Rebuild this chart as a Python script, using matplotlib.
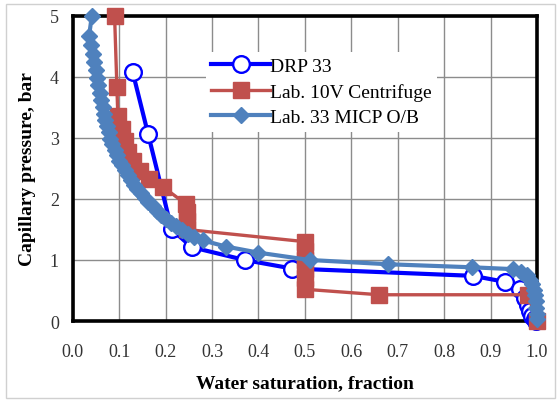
import matplotlib
matplotlib.use("Agg")
import matplotlib.pyplot as plt
from matplotlib.patches import Rectangle

# DRP 33 (digital rock physics)
drp_sw = [0.129, 0.162, 0.213, 0.256, 0.370, 0.472, 0.862, 0.932,
          0.963, 0.974, 0.980, 0.985, 0.990, 0.995, 0.998]
drp_pc = [4.08, 3.07, 1.50, 1.21, 1.00, 0.86, 0.74, 0.64,
          0.52, 0.38, 0.27, 0.17, 0.09, 0.03, 0.00]

# Lab. 10V centrifuge
cent_sw = [0.090, 0.095, 0.097, 0.106, 0.112, 0.119, 0.130, 0.144, 0.165,
           0.194, 0.243, 0.245, 0.245, 0.245, 0.500, 0.500, 0.500, 0.500,
           0.500, 0.500, 0.660, 0.980, 1.000]
cent_pc = [5.00, 3.83, 3.36, 3.15, 2.95, 2.77, 2.62, 2.46, 2.33,
           2.20, 1.92, 1.78, 1.64, 1.50, 1.30, 1.15, 1.00, 0.85,
           0.70, 0.52, 0.43, 0.43, 0.00]

# Lab. 33 MICP O/B
micp_sw = [0.041, 0.035, 0.040, 0.043, 0.046, 0.049, 0.052, 0.055, 0.058,
           0.061, 0.064, 0.067, 0.070, 0.073, 0.077, 0.081, 0.085, 0.090,
           0.095, 0.100, 0.106, 0.112, 0.118, 0.125, 0.132, 0.139, 0.147,
           0.155, 0.163, 0.172, 0.181, 0.191, 0.201, 0.212, 0.223, 0.235,
           0.248, 0.262, 0.280, 0.330, 0.400, 0.510, 0.680, 0.860, 0.948,
           0.965, 0.978, 0.985, 0.990, 0.993, 0.995, 0.997, 0.998, 0.999,
           1.000]
micp_pc = [5.00, 4.67, 4.52, 4.38, 4.24, 4.11, 3.98, 3.86, 3.74,
           3.62, 3.51, 3.40, 3.29, 3.19, 3.09, 2.99, 2.90, 2.81,
           2.72, 2.63, 2.55, 2.47, 2.39, 2.31, 2.23, 2.16, 2.09,
           2.02, 1.95, 1.88, 1.81, 1.74, 1.67, 1.61, 1.55, 1.49,
           1.43, 1.38, 1.32, 1.22, 1.12, 1.00, 0.93, 0.88, 0.85,
           0.81, 0.76, 0.68, 0.60, 0.51, 0.42, 0.32, 0.22, 0.12,
           0.03]

x_ticks = [0.0, 0.1, 0.2, 0.3, 0.4, 0.5, 0.6, 0.7, 0.8, 0.9, 1.0]
y_ticks = [0, 1, 2, 3, 4, 5]

plt.rcParams['font.family'] = ['Liberation Serif', 'DejaVu Serif']

fig = plt.figure(figsize=(5.6, 4.02), dpi=100)
ax = fig.add_axes([0.130, 0.199, 0.829, 0.759])

# light gray chart frame like the Excel chart area
fig.patches.append(Rectangle((0.011, 0.008), 0.980, 0.980, transform=fig.transFigure,
                             fill=False, edgecolor='#d0d0d0', linewidth=1.0))

ax.plot(drp_sw, drp_pc, color='#0000ff', linewidth=3.0, marker='o',
        markersize=12, markerfacecolor='white', markeredgecolor='#0000ff',
        markeredgewidth=1.7, label='DRP 33', clip_on=False, zorder=3)
ax.plot(cent_sw, cent_pc, color='#c0504d', linewidth=2.4, marker='s',
        markersize=11, markerfacecolor='#c0504d', markeredgecolor='#c0504d',
        label='Lab. 10V Centrifuge', clip_on=False, zorder=4)
ax.plot(micp_sw, micp_pc, color='#4f81bd', linewidth=3.0, marker='D',
        markersize=8, markerfacecolor='#4f81bd', markeredgecolor='#4f81bd',
        label='Lab. 33 MICP O/B', clip_on=False, zorder=5)

ax.set_xlim(0, 1.0)
ax.set_ylim(0, 5)
ax.set_xticks(x_ticks)
ax.set_xticklabels([f"{t:.1f}" for t in x_ticks])
ax.set_yticks(y_ticks)
ax.tick_params(axis='both', length=0, labelsize=13, colors='#333333')
ax.tick_params(axis='x', pad=16)
ax.tick_params(axis='y', pad=10)

ax.grid(True, color='#8c8c8c', linewidth=1.0)
ax.set_axisbelow(True)
for s in ax.spines.values():
    s.set_linewidth(2.6)
    s.set_color('black')

ax.set_xlabel('Water saturation, fraction', fontsize=14, fontweight='bold', labelpad=10)
ax.set_ylabel('Capillary pressure, bar', fontsize=14, fontweight='bold', labelpad=10)

leg = ax.legend(loc='upper left', bbox_to_anchor=(0.265, 0.915), fontsize=14,
                frameon=True, fancybox=False, edgecolor='none', framealpha=1.0,
                handlelength=3.0, handletextpad=0.0, labelspacing=0.4,
                borderpad=0.3)
leg.set_zorder(6)

fig.savefig('out.png', dpi=100)
